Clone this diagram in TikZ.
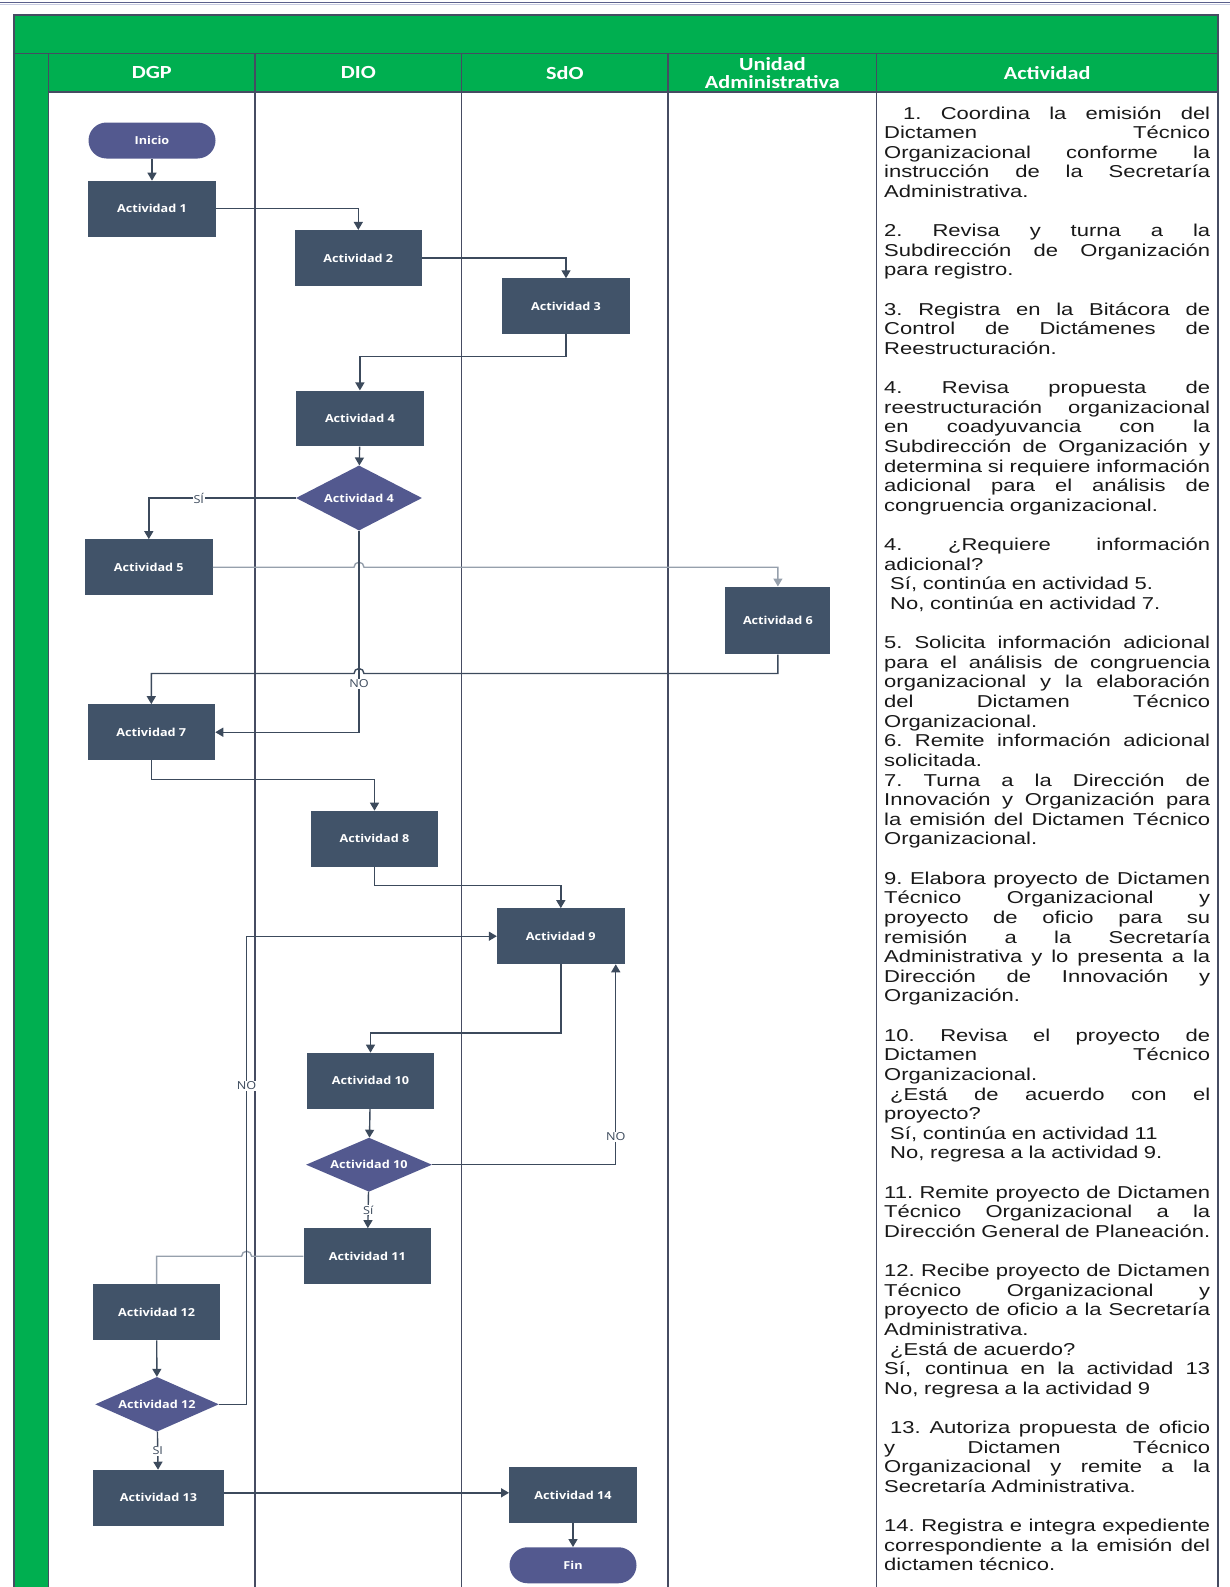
\documentclass[tikz,border=0pt]{standalone}
\usepackage{fontspec}
\usetikzlibrary{positioning, shapes.geometric, arrows.meta, calc}

\newfontfamily\textofont[FakeStretch=1.28]{Liberation Sans}
\newfontfamily\cajafont[FakeStretch=1.15]{Open Sans}
\newfontfamily\encfont[FakeStretch=1.2]{Carlito}

\definecolor{verdeenc}{RGB}{0,175,80}
\definecolor{azulcaja}{RGB}{65,83,105}
\definecolor{morado}{RGB}{83,89,143}
\definecolor{linea}{RGB}{60,74,92}
\definecolor{borde}{RGB}{70,76,98}
\definecolor{lineaclara}{RGB}{150,160,172}

\newlength{\anchotexto}
\setlength{\anchotexto}{326pt}
\newcommand{\renglon}[1]{\makebox[\anchotexto][s]{\spaceskip=.28em plus 1fil\xspaceskip=.28em plus 1fil\relax #1}\\}

\tikzset{
  caja/.style={rectangle, fill=azulcaja, text=white, inner sep=0pt,
    minimum width=127.5pt, minimum height=55.7pt,
    font=\cajafont\bfseries\fontsize{11}{13}\selectfont},
  decision/.style={diamond, aspect=2.4, fill=morado, text=white, inner sep=0pt,
    minimum width=126pt, font=\cajafont\bfseries\fontsize{11}{13}\selectfont},
  terminal/.style={rectangle, rounded corners=18pt, fill=morado, text=white, inner sep=0pt,
    minimum width=127pt, minimum height=36pt,
    font=\cajafont\bfseries\fontsize{11}{13}\selectfont},
  encabezado/.style={text=white, align=center, inner sep=0pt,
    font=\encfont\bfseries\fontsize{18.5}{18.2}\selectfont},
  texto/.style={text width=326pt, align=left, inner sep=0pt, text=black!90,
    font=\textofont\fontsize{17.2}{19.62}\selectfont},
  etiqueta/.style={fill=white, inner sep=1pt, text=linea,
    font=\cajafont\fontsize{11}{13}\selectfont},
  tabla/.style={draw=borde, line width=1.5pt},
  flecha/.style={->, draw=linea, line width=1.4pt},
  conector/.style={draw=linea, line width=1.4pt}
}

\begin{document}
\begin{tikzpicture}[x=1pt, y=1pt, >={Triangle[length=8pt,width=9pt]}]
\useasboundingbox (0,0) rectangle (1230,-1587);

% tabla
\draw[line width=1.2pt, color={rgb,255:red,90;green,96;blue,140}] (0,-2.5) -- (1230,-2.5);
\draw[line width=1pt, color={rgb,255:red,200;green,204;blue,225}] (0,-4.5) -- (1230,-4.5);
\fill[verdeenc] (14.2,-15.2) rectangle (1217.8,-92.1);
\fill[verdeenc] (14.2,-92.1) rectangle (48.6,-1587);
\draw[tabla] (14.2,-1587) |- (1217.8,-15.2) -- (1217.8,-1587);
\draw[tabla] (14.2,-53.7) -- (1217.8,-53.7);
\draw[tabla] (48.6,-92.1) -- (1217.8,-92.1);
\foreach \x in {48.6,255,461.6,668,876.7}
  \draw[tabla] (\x,-53.7) -- (\x,-1587);

\foreach \x/\t [count=\i] in {151.8/DGP, 358.3/DIO, 564.8/SdO, 772.4/{Unidad\\Administrativa}, 1047.2/Actividad}
  \node[encabezado] (enc\i) at (\x,-72.9) {\t};

% nodos
\node[terminal] (inicio) at (152,-140.5) {Inicio};
\node[caja] (a1) [below=22pt of inicio] {Actividad 1};
\node[caja] (a2) at (358.3,-258) {Actividad 2};
\node[caja] (a3) at (566,-306.3) {Actividad 3};
\node[caja] (a4) at (359.9,-418.5) {Actividad 4};
\node[decision, minimum height=65pt] (d4) at (359,-498) {Actividad 4};
\node[caja] (a5) at (148.8,-567.2) {Actividad 5};
\node[caja, minimum width=105pt, minimum height=67.6pt] (a6) at (777.9,-620.5) {Actividad 6};
\node[caja] (a7) at (151.3,-732.2) {Actividad 7};
\node[caja] (a8) at (374.5,-838.7) {Actividad 8};
\node[caja] (a9) at (560.8,-936.2) {Actividad 9};
\node[caja] (a10) at (370.5,-1080.7) {Actividad 10};
\node[decision, minimum height=54pt] (d10) at (369,-1164.7) {Actividad 10};
\node[caja] (a11) at (367.3,-1256.2) {Actividad 11};
\node[caja] (a12) at (156.6,-1312.2) {Actividad 12};
\node[decision, minimum width=123.6pt, minimum height=54.7pt] (d12) at (157,-1404.3) {Actividad 12};
\node[caja, minimum width=131pt] (a13) at (158.5,-1497.8) {Actividad 13};
\node[caja] (a14) at (573,-1495) {Actividad 14};
\node[terminal] (fin) [below=24pt of a14] {Fin};

% conectores
\draw[flecha] (inicio) -- (a1);
\draw[flecha] (a1) -| (a2);
\draw[flecha] (a2) -| (a3);
\draw[flecha] (a3.south) -- ++(0,-22.4) -| (a4.north);
\draw[flecha] (a4) -- (d4);
\draw[flecha] (d4.west) -| node[etiqueta, pos=0.33] {SÍ} (a5.north);
\draw[flecha, draw=lineaclara] (a5.east) -- ($(d4.center |- a5.east)+(-5,0)$)
  arc[start angle=180, end angle=0, radius=5pt] -| (a6.north);
\draw[flecha] (a6.south) -- ++(0,-19) -- ($(d4.center |- a6.south)+(5,-19)$)
  arc[start angle=0, end angle=180, radius=5pt] -| (a7.north);
\draw[flecha] (d4.south) |- node[etiqueta, pos=0.38] {NO} (a7.east);
\draw[flecha] (a7.south) -- ++(0,-19.5) -| (a8.north);
\draw[flecha] (a8.south) -- ++(0,-18.5) -| (a9.north);
\draw[flecha] (a9.south) -- ++(0,-68.7) -| (a10.north);
\draw[flecha] (a10) -- (d10);
\draw[flecha] (d10.east) -| node[etiqueta, pos=0.57] {NO} ([xshift=-9pt]a9.south east);
\draw[flecha] (d10) -- node[etiqueta] {Sí} (a11);
\coordinate (no12) at ([xshift=27.6pt]d12.east);
\draw[conector, draw=lineaclara] (a11.west) -- ($(no12 |- a11.west)+(5,0)$)
  arc[start angle=0, end angle=180, radius=5pt] -| (a12.north);
\draw[flecha] (a12) -- (d12);
\draw[flecha] (d12.east) -- (no12) |- node[etiqueta, pos=0.34] {NO} (a9.west);
\draw[flecha] (d12) -- node[etiqueta] {SI} (a13);
\draw[flecha] ([yshift=5pt]a13.east) -- ([yshift=5pt]a13.east -| a14.west);
\draw[flecha] (a14) -- (fin);

% actividades
\node[texto, anchor=base west] (desc) at (884,-119) {%
\renglon{\hspace*{19pt}1. Coordina la emisión del}
\renglon{Dictamen Técnico}
\renglon{Organizacional conforme la}
\renglon{instrucción de la Secretaría}
Administrativa.\\
\mbox{}\\
\renglon{2. Revisa y turna a la}
\renglon{Subdirección de Organización}
para registro.\\
\mbox{}\\
\renglon{3. Registra en la Bitácora de}
\renglon{Control de Dictámenes de}
Reestructuración.\\
\mbox{}\\
\renglon{4. Revisa propuesta de}
\renglon{reestructuración organizacional}
\renglon{en coadyuvancia con la}
\renglon{Subdirección de Organización y}
\renglon{determina si requiere información}
\renglon{adicional para el análisis de}
congruencia organizacional.\\
\mbox{}\\
\renglon{4. ¿Requiere información}
adicional?\\
\hspace*{6pt}Sí, continúa en actividad 5.\\
\hspace*{6pt}No, continúa en actividad 7.\\
\mbox{}\\
\renglon{5. Solicita información adicional}
\renglon{para el análisis de congruencia}
\renglon{organizacional y la elaboración}
\renglon{del Dictamen Técnico}
Organizacional.\\
\renglon{6. Remite información adicional}
solicitada.\\
\renglon{7. Turna a la Dirección de}
\renglon{Innovación y Organización para}
\renglon{la emisión del Dictamen Técnico}
Organizacional.\\
\mbox{}\\
\renglon{9. Elabora proyecto de Dictamen}
\renglon{Técnico Organizacional y}
\renglon{proyecto de oficio para su}
\renglon{remisión a la Secretaría}
\renglon{Administrativa y lo presenta a la}
\renglon{Dirección de Innovación y}
Organización.\\
\mbox{}\\
\renglon{10. Revisa el proyecto de}
\renglon{Dictamen Técnico}
Organizacional.\\
\renglon{\hspace*{6pt}¿Está de acuerdo con el}
proyecto?\\
\hspace*{6pt}Sí, continúa en actividad 11\\
\hspace*{6pt}No, regresa a la actividad 9.\\
\mbox{}\\
\renglon{11. Remite proyecto de Dictamen}
\renglon{Técnico Organizacional a la}
\renglon{Dirección General de Planeación.}
\mbox{}\\
\renglon{12. Recibe proyecto de Dictamen}
\renglon{Técnico Organizacional y}
\renglon{proyecto de oficio a la Secretaría}
Administrativa.\\
\hspace*{6pt}¿Está de acuerdo?\\
\renglon{Sí, continua en la actividad 13}
No, regresa a la actividad 9\\
\mbox{}\\
\renglon{\hspace*{6pt}13. Autoriza propuesta de oficio}
\renglon{y Dictamen Técnico}
\renglon{Organizacional y remite a la}
Secretaría Administrativa.\\
\mbox{}\\
\renglon{14. Registra e integra expediente}
\renglon{correspondiente a la emisión del}
dictamen técnico.};
\end{tikzpicture}
\end{document}
